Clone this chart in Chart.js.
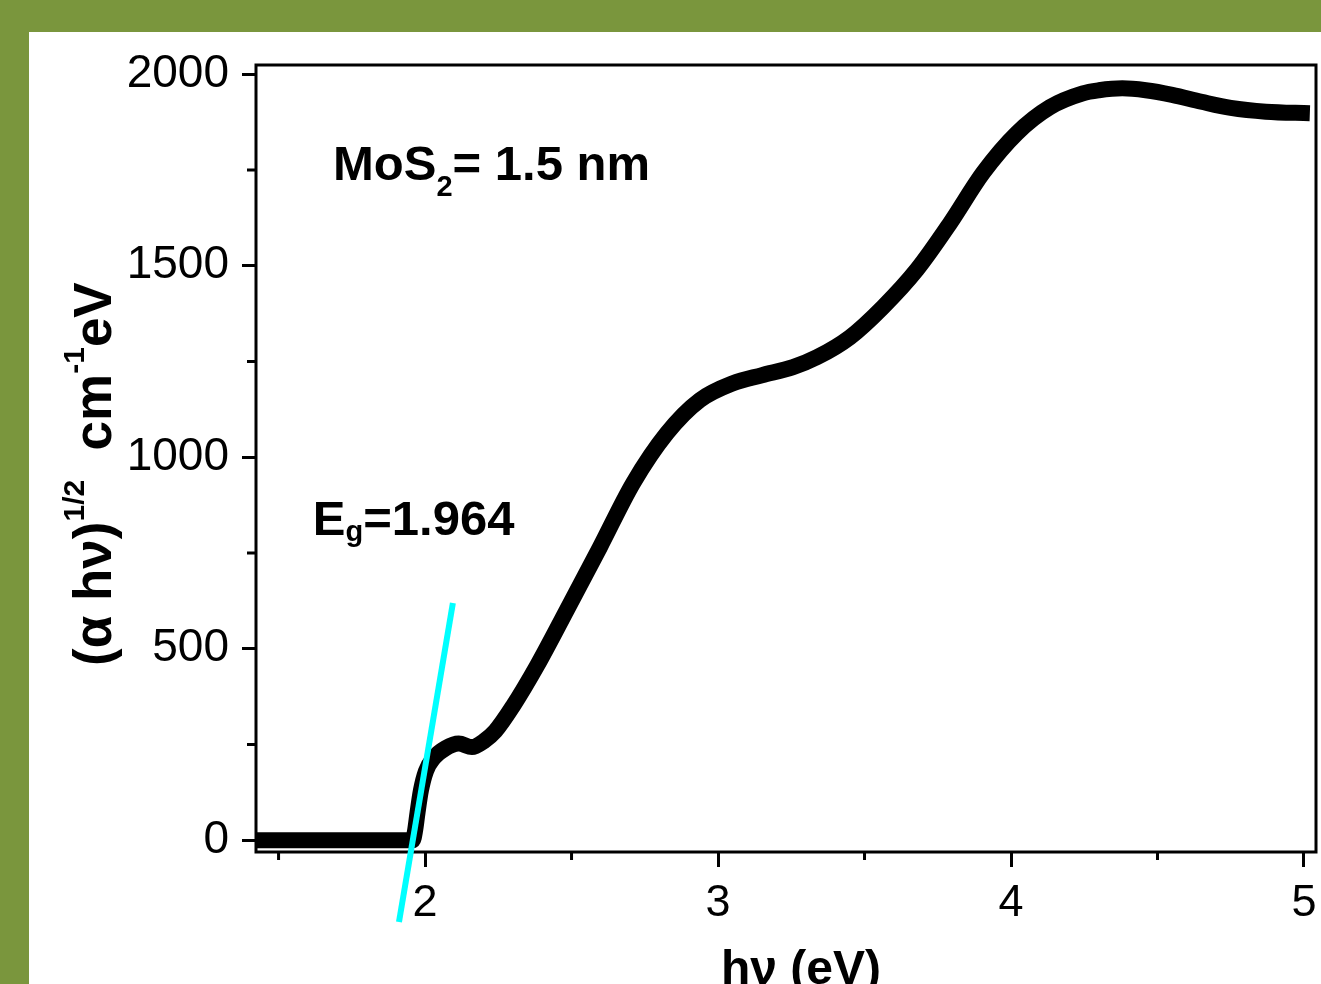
<!DOCTYPE html>
<html lang="en">

<head>
    <meta charset="UTF-8">
    <title>MoS2 Tauc plot</title>
    <script src="https://cdn.jsdelivr.net/npm/chart.js"></script>
    <style>
        body { margin: 0; padding: 0; background: #7a963d; }
        canvas { display: block; }
    </style>
</head>

<body>
    <canvas id="taucChart" width="1321" height="984"></canvas>

    <script>
        // photon energy (eV) and (alpha h nu)^1/2
        const energy = [1.423, 1.70, 1.958, 1.966, 1.974, 1.986, 2.003, 2.030, 2.070, 2.115, 2.160, 2.200, 2.240,
            2.300, 2.382, 2.484, 2.597, 2.710, 2.826, 2.938, 3.051, 3.150, 3.256, 3.338, 3.450, 3.563, 3.679,
            3.792, 3.904, 4.020, 4.133, 4.245, 4.300, 4.380, 4.460, 4.550, 4.650, 4.750, 4.870, 5.020];
        const taucValue = [0, 0, 0, 25, 70, 130, 180, 215, 240, 252, 243, 258, 285,
            350, 455, 601, 765, 932, 1063, 1149, 1193, 1214, 1235, 1261, 1313, 1392, 1490,
            1611, 1742, 1846, 1914, 1950, 1958, 1963, 1958, 1946, 1928, 1912, 1902, 1898];

        // linear fit used for the band gap
        const fitX = [1.911, 2.095];
        const fitY = [-214, 619];

        const xTicks = [2, 3, 4, 5];
        const xMinor = [1.5, 2.5, 3.5, 4.5];
        const yTicks = [0, 500, 1000, 1500, 2000];
        const yMinor = [250, 750, 1250, 1750];

        const FONT = "'Liberation Sans', Arial, sans-serif";

        // draw text made of pieces (for sub / superscripts)
        function drawRuns(ctx, x, y, runs) {
            runs.forEach(r => {
                ctx.font = "bold " + r[1] + "px " + FONT;
                ctx.fillText(r[0], x, y + r[2]);
                x += ctx.measureText(r[0]).width;
            });
        }

        const decorPlugin = {
            id: 'decor',
            beforeDraw(chart) {
                const ctx = chart.ctx;
                ctx.save();
                ctx.fillStyle = '#7a963d';
                ctx.fillRect(0, 0, chart.width, chart.height);
                ctx.fillStyle = '#ffffff';
                ctx.fillRect(29, 32, chart.width - 29, chart.height - 32);
                ctx.restore();
            },
            beforeDatasetsDraw(chart) {
                const ctx = chart.ctx;
                const a = chart.chartArea;
                const xs = chart.scales.x;
                const ys = chart.scales.y;
                ctx.save();
                ctx.strokeStyle = '#000';
                ctx.lineWidth = 3;
                ctx.strokeRect(a.left, a.top, a.right - a.left, a.bottom - a.top);
                // minor ticks
                ctx.beginPath();
                xMinor.forEach(v => {
                    const px = xs.getPixelForValue(v);
                    ctx.moveTo(px, a.bottom);
                    ctx.lineTo(px, a.bottom + 8);
                });
                yMinor.forEach(v => {
                    const py = ys.getPixelForValue(v);
                    ctx.moveTo(a.left, py);
                    ctx.lineTo(a.left - 9, py);
                });
                ctx.stroke();
                ctx.restore();
            },
            afterDraw(chart) {
                const ctx = chart.ctx;
                const a = chart.chartArea;
                const xs = chart.scales.x;
                const ys = chart.scales.y;
                ctx.save();
                ctx.fillStyle = '#000';
                ctx.textBaseline = 'alphabetic';

                // annotations
                drawRuns(ctx, xs.getPixelForValue(1.686), ys.getPixelForValue(1723),
                    [['MoS', 49, 0], ['2', 29, 16], ['= 1.5 nm', 49, 0]]);
                drawRuns(ctx, xs.getPixelForValue(1.617), ys.getPixelForValue(796),
                    [['E', 49, 0], ['g', 29, 6], ['=1.964', 49, 0]]);

                // x axis title
                ctx.font = "bold 48px " + FONT;
                ctx.textAlign = 'center';
                ctx.fillText('hν (eV)', (a.left + a.right) / 2 + 15, chart.height);

                // y axis title (rotated)
                ctx.textAlign = 'left';
                ctx.translate(111, 666);
                ctx.rotate(-Math.PI / 2);
                drawRuns(ctx, 0, 0, [['(α hν)', 53, 0], ['1/2', 30, -27], ['  cm', 53, 0], ['-1', 30, -27], ['eV', 53, 0]]);
                ctx.restore();
            }
        };

        const curve = energy.map((e, i) => ({ x: e, y: taucValue[i] }));
        const fitLine = fitX.map((e, i) => ({ x: e, y: fitY[i] }));

        new Chart(document.getElementById('taucChart'), {
            type: 'line',
            data: {
                datasets: [{
                    label: 'fit',
                    data: fitLine,
                    borderColor: '#00ffff',
                    borderWidth: 6,
                    pointRadius: 0,
                    borderCapStyle: 'butt',
                    clip: false,
                    order: 0
                }, {
                    label: 'MoS2',
                    data: curve,
                    borderColor: '#000000',
                    borderWidth: 16,
                    pointRadius: 0,
                    cubicInterpolationMode: 'monotone',
                    borderCapStyle: 'butt',
                    borderJoinStyle: 'round',
                    clip: false,
                    order: 1
                }]
            },
            options: {
                responsive: false,
                animation: false,
                layout: { padding: { top: 65, right: 5, left: 0, bottom: 0 } },
                plugins: {
                    legend: { display: false },
                    tooltip: { enabled: false }
                },
                scales: {
                    x: {
                        type: 'linear',
                        min: 1.423,
                        max: 5.041,
                        afterBuildTicks: s => { s.ticks = xTicks.map(v => ({ value: v })); },
                        afterFit: s => {
                            s.height = 132;
                            s.paddingLeft = 0;
                            s.paddingRight = 0;
                        },
                        border: { display: false },
                        grid: {
                            drawOnChartArea: false,
                            drawTicks: true,
                            tickLength: 15,
                            tickWidth: 3,
                            tickColor: '#000'
                        },
                        ticks: {
                            color: '#000',
                            padding: 10,
                            maxRotation: 0,
                            font: { family: FONT, size: 45 }
                        }
                    },
                    y: {
                        min: -31,
                        max: 2024,
                        afterBuildTicks: s => { s.ticks = yTicks.map(v => ({ value: v })); },
                        afterFit: s => {
                            s.width = 256;
                            s.paddingTop = 0;
                            s.paddingBottom = 0;
                        },
                        border: { display: false },
                        grid: {
                            drawOnChartArea: false,
                            drawTicks: true,
                            tickLength: 14,
                            tickWidth: 3,
                            tickColor: '#000'
                        },
                        ticks: {
                            color: '#000',
                            padding: 13,
                            callback: v => String(v),
                            font: { family: FONT, size: 46 }
                        }
                    }
                }
            },
            plugins: [decorPlugin]
        });
    </script>
</body>

</html>
